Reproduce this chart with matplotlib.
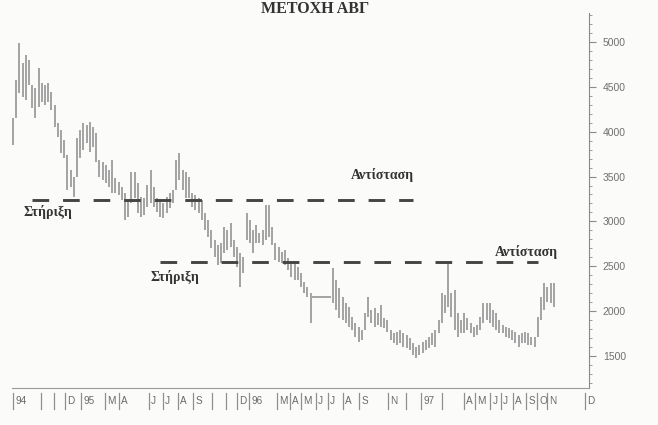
import numpy as np
import matplotlib
matplotlib.use('Agg')
import matplotlib.pyplot as plt
import matplotlib.transforms as mtransforms
from matplotlib.ticker import MultipleLocator

plt.rcParams['lines.scale_dashes'] = False

# weekly high / low, Aug 1994 - Nov 1997
highs = [4149, 4576, 4985, 4762, 4855, 4800, 4521, 4483, 4706, 4539,
         4521, 4539, 4446, 4298, 4093, 4019, 3907, 3740, 3573, 3499,
         3926, 4019, 4093, 4075, 4112, 4056, 3982, 3685, 3666, 3629,
         3573, 3685, 3480, 3443, 3387, 3313, 3239, 3554, 3554, 3424,
         3276, 3257, 3406, 3573, 3387, 3257, 3220, 3201, 3276, 3313,
         3350, 3685, 3759, 3573, 3554, 3499, 3313, 3294, 3257, 3239,
         3090, 3016, 2904, 2793, 2737, 2756, 2941, 2904, 2978, 2793,
         2718, 2644, 2607, 3090, 3016, 2904, 2960, 2867, 2904, 3183,
         3183, 2941, 2756, 2718, 2663, 2681, 2588, 2533, 2533, 2495,
         2421, 2328, 2273, 2198,
         2156, 2156, 2156, 2156, 2156, 2156,
         2477, 2347, 2254, 2161, 2087, 2049, 1938, 1864, 1826, 1789,
         1975, 2161, 2012, 2031, 1975, 2068, 1919, 1901, 1789, 1752,
         1771, 1789, 1752, 1734, 1696, 1641, 1603, 1622, 1659, 1678,
         1715, 1752, 1789, 1901, 2198, 2179, 2532,
         2198, 2235, 1975, 1901, 1975, 1919, 1864, 1826, 1845, 1938,
         2087, 2087, 2087, 2012, 1975, 1901, 1845, 1826, 1808, 1789,
         1771, 1734, 1752, 1771, 1752, 1715, 1715, 1938, 2161, 2310,
         2273, 2310, 2310]
lows = [3852, 4149, 4428, 4391, 4353, 4521, 4260, 4149, 4279, 4335,
        4298, 4335, 4242, 4056, 3945, 3759, 3703, 3350, 3387, 3276,
        3499, 3703, 3796, 3870, 3777, 3833, 3666, 3499, 3462, 3424,
        3387, 3313, 3313, 3294, 3239, 3016, 3053, 3201, 3257, 3090,
        3053, 3071, 3164, 3201, 3164, 3109, 3053, 3034, 3090, 3146,
        3201, 3350, 3462, 3350, 3257, 3257, 3164, 3127, 3090, 3016,
        2904, 2830, 2700, 2607, 2514, 2533, 2644, 2681, 2718, 2607,
        2495, 2273, 2421, 2793, 2756, 2644, 2756, 2756, 2737, 2793,
        2830, 2737, 2570, 2551, 2533, 2514, 2458, 2384, 2347, 2347,
        2273, 2198, 2161, 1864,
        2156, 2156, 2156, 2156, 2156, 2156,
        2087, 2012, 1919, 1901, 1864, 1826, 1789, 1715, 1659, 1678,
        1789, 1938, 1864, 1826, 1845, 1826, 1808, 1771, 1678, 1641,
        1622, 1641, 1603, 1585, 1566, 1510, 1473, 1510, 1529, 1566,
        1585, 1622, 1603, 1752, 1864, 1975, 2049,
        1938, 1789, 1715, 1752, 1752, 1789, 1752, 1715, 1734, 1789,
        1864, 1901, 1864, 1826, 1789, 1752, 1752, 1715, 1696, 1678,
        1641, 1603, 1641, 1641, 1622, 1622, 1603, 1715, 1901, 2012,
        2105, 2087, 2049]

# support / resistance levels and the weeks they span
level_1 = 3240
level_1_span = [6, 125]
level_2 = 2545
level_2_span = [46, 164]

# month strip under the chart (week of first bar, label)
month_ticks = [0, 8.75, 12.8, 16.25, 21.25, 28.75, 33.1, 42.5, 46.9, 51.6,
               56.25, 62.2, 66.6, 70, 73.75, 82.5, 86.6, 90, 94.7, 98.4,
               103.1, 108.1, 117.2, 122.8, 127.5, 134.1, 140.9, 144.4, 149.1, 152.5,
               156.25, 160.3, 163.75, 166.9, 178.75]
month_labels = ['94', '', '', 'D', '95', 'M', 'A', 'J', 'J', 'A',
                'S', '', '', 'D', '96', 'M', 'A', 'M', 'J', 'J',
                'A', 'S', 'N', '', '97', '', 'A', 'M', 'J', 'J',
                'A', 'S', 'O', 'N', 'D']

bg = '#fbfbf9'
bar_color = '#8c8c8c'
serif = ['Liberation Serif', 'DejaVu Serif']

fig = plt.figure(figsize=(6.58, 4.25), dpi=100, facecolor=bg)
ax = fig.add_axes([12 / 658, 1 - 388 / 425, (589 - 12) / 658, (388 - 13) / 425])
ax.set_facecolor(bg)

weeks = np.arange(len(highs))
hi = np.array(highs)
lo = np.array(lows)
moving = hi > lo
ax.vlines(weeks[moving], lo[moving], hi[moving], color=bar_color, lw=1.1)
# trading halt: price stays flat
flat = ~moving
ax.hlines(hi[flat], weeks[flat] - 0.5, weeks[flat] + 0.5, color=bar_color, lw=1.1)

ax.plot(level_1_span, [level_1, level_1], color='#454545', lw=2.1, dashes=(12, 10))
ax.plot(level_2_span, [level_2, level_2], color='#454545', lw=2.1, dashes=(12, 10))

txt = dict(family=serif, weight='bold', fontsize=10, color='#333333', ha='center', va='center')
ax.text(11, 3105, 'Στήριξη', **txt)
ax.text(115.5, 3517, 'Αντίσταση', **txt)
ax.text(50.5, 2380, 'Στήριξη', **txt)
ax.text(160.5, 2659, 'Αντίσταση', **txt)

fig.text(315 / 658, 1 - 9 / 425, 'ΜΕΤΟΧΗ ΑΒΓ', family=serif, weight='bold',
         fontsize=11.5, color='#333333', ha='center', va='center')

ax.set_xlim(-0.3, 180)
ax.set_ylim(1143, 5323)

for side in ['left', 'top']:
    ax.spines[side].set_visible(False)
ax.spines['right'].set_color('#8a8a8a')
ax.spines['bottom'].set_color('#9a9a9a')

ax.yaxis.tick_right()
ax.yaxis.set_minor_locator(MultipleLocator(100))
ax.set_yticks(np.arange(1500, 5001, 500))
ax.tick_params(axis='y', which='major', direction='out', length=5, color='#8a8a8a',
               labelcolor='#707070', labelsize=7.5, pad=5)
ax.tick_params(axis='y', which='minor', direction='out', length=2.5, color='#8a8a8a')
for lab in ax.get_yticklabels():
    lab.set_family('Liberation Sans')
ax.set_xticks([])

trans = mtransforms.blended_transform_factory(ax.transData, ax.transAxes)
for pos, lab in zip(month_ticks, month_labels):
    ax.plot([pos, pos], [-0.012, -0.056], transform=trans, color='#8f8f8f', lw=0.9, clip_on=False)
    if lab:
        ax.text(pos + 0.7, -0.034, lab, transform=trans, ha='left', va='center',
                fontsize=7.2, color='#6a6a6a', family='Liberation Sans', clip_on=False)

fig.savefig('out.png', dpi=100, facecolor=bg)
